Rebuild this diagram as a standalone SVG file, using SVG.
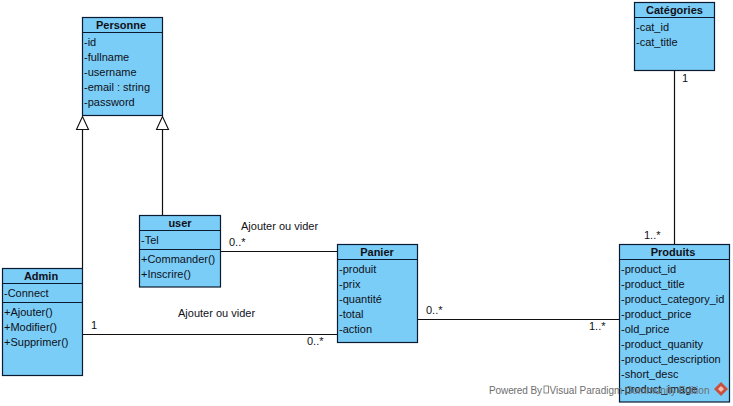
<svg xmlns="http://www.w3.org/2000/svg" width="733" height="406" viewBox="0 0 733 406">
<style>
text{font-family:"Liberation Sans",Arial,sans-serif;font-size:11px;fill:#101018}
.box{fill:#7acdf7;stroke:#0a1a30;stroke-width:1.2}
.sep{stroke:#0a1a30;stroke-width:1.2;fill:none}
.title{font-weight:bold;text-anchor:middle}
.line{stroke:#101010;stroke-width:1.2;fill:none}
.tri{fill:#fff;stroke:#101010;stroke-width:1.1}
.wm{font-size:10px;fill:#6e6e6e}
</style>
<rect width="733" height="406" fill="#fff"/>
<g id="connectors">
<path class="line" d="M82.500 130V268M162.500 130V215M220.500 251.500H337M82.500 334.500H337M417.500 319.500H619M674.500 70.500V244"/>
<path class="tri" d="M82.500 116.500L76.500 129.500H88.500Z"/>
<path class="tri" d="M162.500 116.500L156.500 129.500H168.500Z"/>
<text x="241" y="230">Ajouter ou vider</text>
<text x="229" y="246">0..*</text>
<text x="178" y="317">Ajouter ou vider</text>
<text x="91" y="329">1</text>
<text x="307" y="345">0..*</text>
<text x="426" y="314">0..*</text>
<text x="589" y="330">1..*</text>
<text x="682" y="82">1</text>
<text x="644" y="239">1..*</text>
</g>
<g id="Personne">
<rect class="box" x="82.500" y="17.500" width="80" height="98"/><path class="sep" d="M82.500 32.500H162.500"/>
<text class="title" x="121" y="29">Personne</text>
<text x="84" y="46">-id</text><text x="84" y="61">-fullname</text><text x="84" y="76">-username</text><text x="84" y="91">-email : string</text><text x="84" y="106">-password</text>
</g>
<g id="Admin">
<rect class="box" x="2.500" y="268.500" width="80" height="107"/><path class="sep" d="M2.500 283.500H82.500M2.500 302.500H82.500"/>
<text class="title" x="41" y="280">Admin</text>
<text x="4" y="297">-Connect</text>
<text x="4" y="316">+Ajouter()</text><text x="4" y="331">+Modifier()</text><text x="4" y="346">+Supprimer()</text>
</g>
<g id="user">
<rect class="box" x="139.500" y="215.500" width="81" height="71.500"/><path class="sep" d="M139.500 230.500H220.500M139.500 249.500H220.500"/>
<text class="title" x="180" y="227">user</text>
<text x="141" y="244">-Tel</text>
<text x="141" y="263">+Commander()</text><text x="141" y="278">+Inscrire()</text>
</g>
<g id="Panier">
<rect class="box" x="337.500" y="244.500" width="80" height="98"/><path class="sep" d="M337.500 259.500H417.500"/>
<text class="title" x="377" y="256">Panier</text>
<text x="339" y="273">-produit</text><text x="339" y="288">-prix</text><text x="339" y="303">-quantité</text><text x="339" y="318">-total</text><text x="339" y="333">-action</text>
</g>
<g id="Categories">
<rect class="box" x="634.500" y="2.500" width="80" height="68"/><path class="sep" d="M634.500 17.500H714.500"/>
<text class="title" x="674.500" y="14">Catégories</text>
<text x="636" y="31">-cat_id</text><text x="636" y="46">-cat_title</text>
</g>
<g id="Produits">
<rect class="box" x="619.500" y="244.500" width="110" height="157.500"/><path class="sep" d="M619.500 259.500H729.500"/>
<text class="title" x="673" y="256">Produits</text>
<text x="621" y="273">-product_id</text><text x="621" y="288">-product_title</text><text x="621" y="303">-product_category_id</text><text x="621" y="318">-product_price</text><text x="621" y="333">-old_price</text><text x="621" y="348">-product_quanity</text><text x="621" y="363">-product_description</text><text x="621" y="378">-short_desc</text><text x="621" y="393">-product_image</text>
</g>
<g id="watermark">
<text class="wm" x="489" y="393.500" textLength="53" lengthAdjust="spacing">Powered By</text>
<rect x="544" y="386" width="4.500" height="7" fill="none" stroke="#6e6e6e" stroke-width=".8"/>
<text class="wm" x="549.500" y="393.500" textLength="160" lengthAdjust="spacing">Visual Paradigm Community Edition</text>
<path d="M721 382l7 7-7 7-7-7z" fill="#c9503f"/><path d="M721 386l3 3-3 3-3-3z" fill="#eec0b0"/>
</g>
</svg>
